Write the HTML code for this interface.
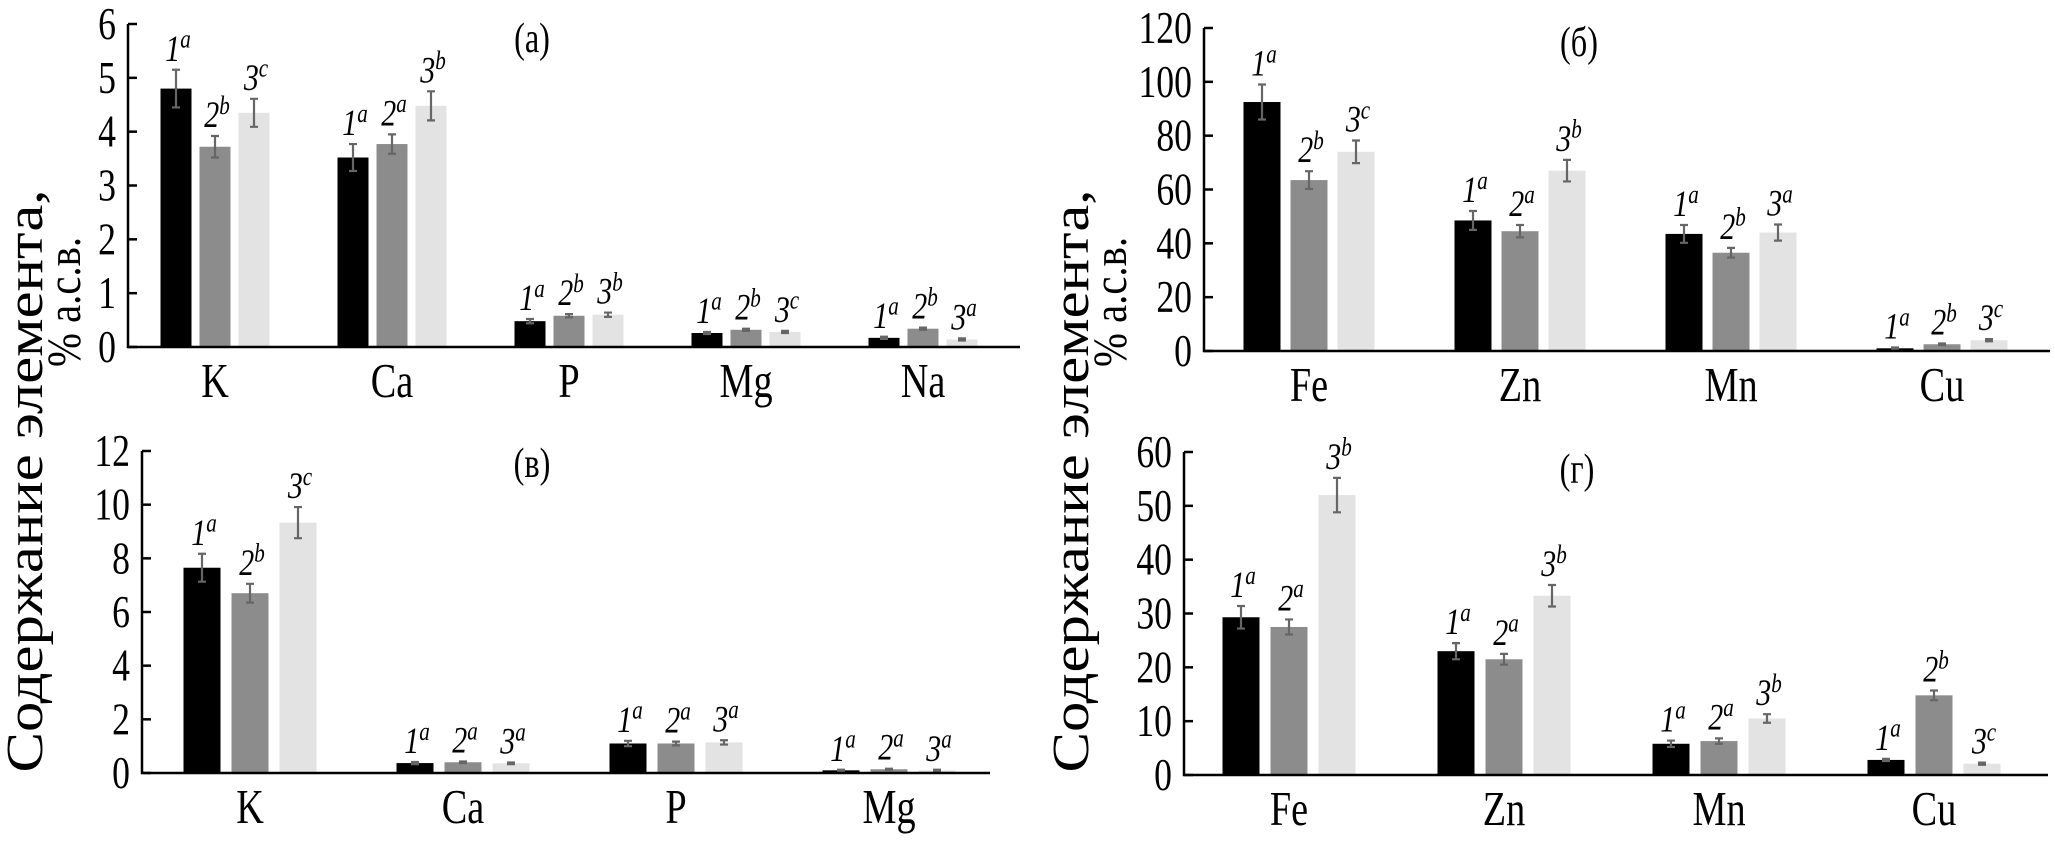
<!DOCTYPE html>
<html><head><meta charset="utf-8"><style>
html,body{margin:0;padding:0;background:#fff;}
svg, svg text, svg tspan{font-family:"Liberation Serif","Times New Roman","DejaVu Serif",serif;}
</style></head><body>
<svg id="chart" width="2055" height="838" viewBox="0 0 2055 838" xmlns="http://www.w3.org/2000/svg" font-family="Liberation Serif, Times New Roman, serif">
<g>
<text x="42" y="481" transform="rotate(-90 42 481)" text-anchor="middle" font-size="52" textLength="583" lengthAdjust="spacingAndGlyphs">Содержание элемента,</text>
<text x="80" y="302" transform="rotate(-90 80 302)" text-anchor="middle" font-size="48" textLength="130" lengthAdjust="spacingAndGlyphs">% а.с.в.</text>
</g>
<g>
<text x="1088" y="481" transform="rotate(-90 1088 481)" text-anchor="middle" font-size="52" textLength="583" lengthAdjust="spacingAndGlyphs">Содержание элемента,</text>
<text x="1126" y="302" transform="rotate(-90 1126 302)" text-anchor="middle" font-size="48" textLength="130" lengthAdjust="spacingAndGlyphs">% а.с.в.</text>
</g>
</svg>
<script>
// Panel (a)
const catsA = ["K","Ca","P","Mg","Na"];
const s1A = [4.8,3.52,0.48,0.26,0.17];
const s2A = [3.72,3.77,0.58,0.32,0.34];
const s3A = [4.35,4.48,0.6,0.28,0.14];
const e1A = [0.35,0.25,0.04,0.02,0.02];
const e2A = [0.2,0.18,0.03,0.02,0.02];
const e3A = [0.26,0.27,0.04,0.02,0.02];
const letA = [["a","b","c"],["a","a","b"],["a","b","b"],["a","b","c"],["a","b","a"]];
const ticksA = [0,1,2,3,4,5,6];
// Panel (б)
const catsB = ["Fe","Zn","Mn","Cu"];
const s1B = [92.5,48.5,43.5,1.0];
const s2B = [63.5,44.5,36.5,2.5];
const s3B = [74,67,44,4.0];
const e1B = [6.5,3.5,3.3,0.3];
const e2B = [3.3,2.3,1.8,0.3];
const e3B = [4.2,4,3,0.4];
const letB = [["a","b","c"],["a","a","b"],["a","b","a"],["a","b","c"]];
const ticksB = [0,20,40,60,80,100,120];
// Panel (в)
const catsC = ["K","Ca","P","Mg"];
const s1C = [7.65,0.37,1.1,0.1];
const s2C = [6.7,0.4,1.1,0.14];
const s3C = [9.33,0.36,1.14,0.1];
const e1C = [0.52,0.04,0.1,0.02];
const e2C = [0.35,0.03,0.07,0.02];
const e3C = [0.58,0.03,0.08,0.02];
const letC = [["a","b","c"],["a","a","a"],["a","a","a"],["a","a","a"]];
const ticksC = [0,2,4,6,8,10,12];
// Panel (г)
const catsD = ["Fe","Zn","Mn","Cu"];
const s1D = [29.3,23,5.8,2.8];
const s2D = [27.5,21.5,6.3,14.8];
const s3D = [52,33.3,10.5,2.1];
const e1D = [2.1,1.5,0.6,0.2];
const e2D = [1.4,1,0.5,0.9];
const e3D = [3.2,2,0.8,0.2];
const letD = [["a","a","b"],["a","a","b"],["a","a","b"],["a","b","c"]];
const ticksD = [0,10,20,30,40,50,60];

const NS = "http://www.w3.org/2000/svg";
const svg = document.getElementById("chart");
const colors = ["#000000","#8c8c8c","#e3e3e3"];
const FF = "Liberation Serif, Times New Roman, serif";
function mk(tag, attrs, parent){
  const el = document.createElementNS(NS, tag);
  for (const k in attrs) el.setAttribute(k, attrs[k]);
  if (tag === "text") el.setAttribute("font-family", FF);
  parent.appendChild(el);
  return el;
}
// condensed text placed at (x,y)
function ctext(x, y, attrs, parent, sx, sy){
  const a = Object.assign({x:0, y:0, transform:`translate(${x},${y}) scale(${sx},${sy})`}, attrs);
  return mk("text", a, parent);
}
function panel(cfg){
  const g = mk("g", {}, svg);
  
  
  const vmax = cfg.ticks[cfg.ticks.length-1];
  const y = v => cfg.y0 - (v / vmax) * (cfg.y0 - cfg.yTop);
  const xc = i => cfg.c0 + i * cfg.step;
  cfg.ticks.forEach(t => {
    const ln = mk("line", {x1:cfg.x0, x2:cfg.x0+9, y1:y(t), y2:y(t), stroke:"#000", "stroke-width":2.5}, g);
    
    
    const tx = ctext(cfg.x0-12, y(t)+15, {"text-anchor":"end", "font-size":42}, g, 0.85, 1.08);
    
    
    tx.textContent = t;
  });
  const series = [cfg.s1, cfg.s2, cfg.s3];
  const errs = [cfg.e1, cfg.e2, cfg.e3];
  cfg.cats.forEach((c, i) => {
    for (let s = 0; s < 3; s++){
      const v = series[s][i], e = errs[s][i];
      const bx = xc(i) + (s-1)*cfg.pitch;
      const r = mk("rect", {x:bx-cfg.bw/2, y:y(v), width:cfg.bw, height:cfg.y0-y(v), fill:colors[s]}, g);
      
      
      const eb = mk("path", {d:`M${bx-4},${y(v+e)}H${bx+4}M${bx},${y(v+e)}V${y(v-e)}M${bx-4},${y(v-e)}H${bx+4}`, stroke:"#666", "stroke-width":2.2, fill:"none"}, g);
      
      
      const lt = ctext(bx+2, y(v+e)-9, {"text-anchor":"middle", "font-size":34, "font-style":"italic"}, g, 0.88, 1.1);
      
      
      lt.textContent = String(s+1);
      const sup = mk("tspan", {dy:-12, "font-size":24}, lt);
      sup.textContent = cfg.lets[i][s];
    }
    const cl = ctext(xc(i), cfg.y0+50, {"text-anchor":"middle", "font-size":45}, g, 0.85, 1.08);
    
    
    cl.textContent = c;
  });
  const ax = mk("path", {d:`M${cfg.x0},${cfg.yTop}V${cfg.y0}H${cfg.xEnd}`, stroke:"#000", "stroke-width":2.5, fill:"none"}, g);
  
  
  const pl = ctext(cfg.lx, cfg.ly, {"text-anchor":"middle", "font-size":38}, g, 0.85, 1.1);
  
  
  pl.textContent = cfg.label;
}
panel({id:"a", label:"(а)", lx:532, ly:52, x0:128, y0:347, yTop:24, xEnd:1020, c0:215, step:177, bw:31, pitch:39,
  cats:catsA, s1:s1A, s2:s2A, s3:s3A, e1:e1A, e2:e2A, e3:e3A, lets:letA, ticks:ticksA});
panel({id:"b", label:"(б)", lx:1579, ly:56, x0:1204, y0:351, yTop:28, xEnd:2050, c0:1309, step:211, bw:37, pitch:47,
  cats:catsB, s1:s1B, s2:s2B, s3:s3B, e1:e1B, e2:e2B, e3:e3B, lets:letB, ticks:ticksB});
panel({id:"c", label:"(в)", lx:532, ly:477, x0:142, y0:773, yTop:451, xEnd:990, c0:250, step:213, bw:37, pitch:48,
  cats:catsC, s1:s1C, s2:s2C, s3:s3C, e1:e1C, e2:e2C, e3:e3C, lets:letC, ticks:ticksC});
panel({id:"d", label:"(г)", lx:1577, ly:483, x0:1184, y0:775, yTop:452, xEnd:2048, c0:1289, step:215, bw:37, pitch:48,
  cats:catsD, s1:s1D, s2:s2D, s3:s3D, e1:e1D, e2:e2D, e3:e3D, lets:letD, ticks:ticksD});
</script>
</body></html>
